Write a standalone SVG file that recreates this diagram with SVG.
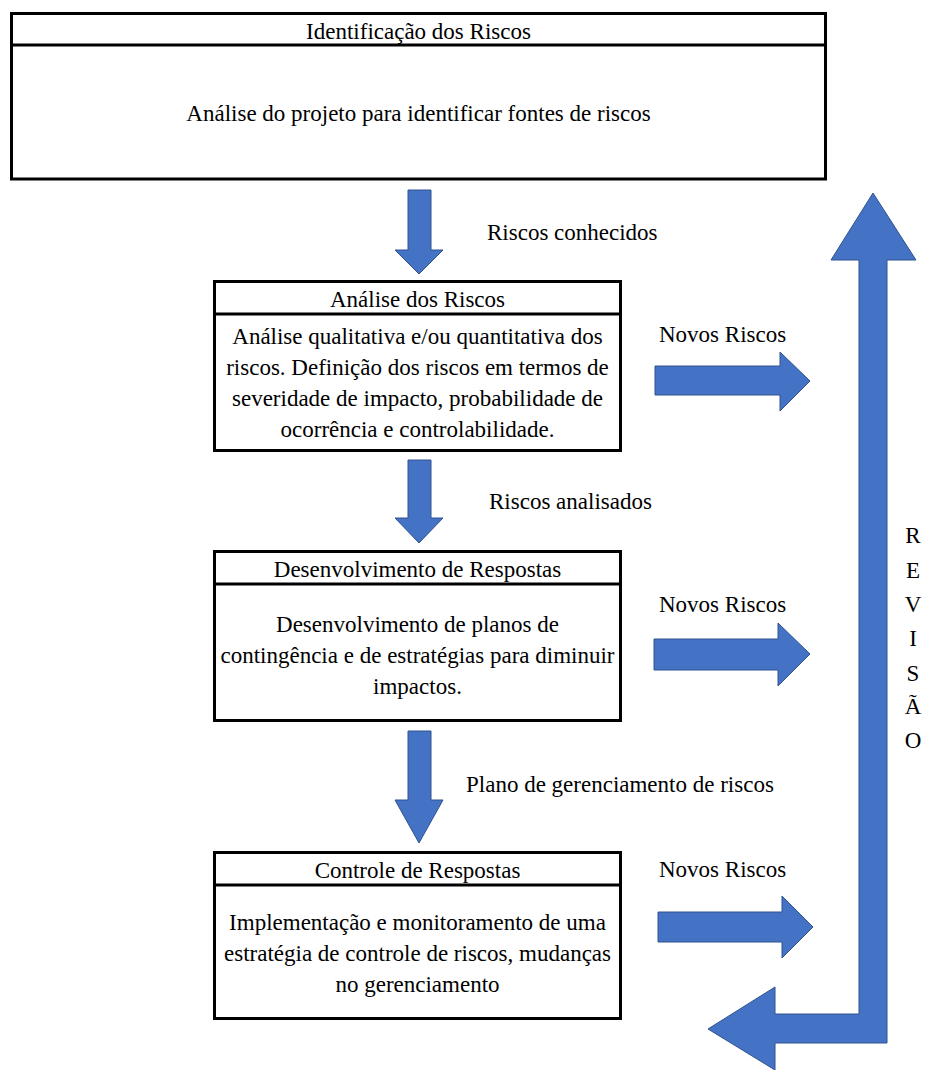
<svg xmlns="http://www.w3.org/2000/svg" width="925" height="1070" viewBox="0 0 925 1070" font-family="Liberation Serif, Times New Roman, serif" font-size="23">
<style>
.c{text-anchor:middle}
.box{fill:#fff;stroke:#000;stroke-width:3}
.div{stroke:#000;stroke-width:3}
.arr{fill:#4472C4;stroke:#2F528F;stroke-width:1}
</style>
<rect x="0" y="0" width="925" height="1070" fill="#fff"/>
<g id="node-identificacao">
<rect class="box" x="11.5" y="13.5" width="814" height="165.5"/>
<line class="div" x1="11.5" y1="45" x2="825.5" y2="45"/>
<text class="c" x="418.5" y="39">Identificação dos Riscos</text>
<text class="c" x="418.5" y="121">Análise do projeto para identificar fontes de riscos</text>
</g>
<g id="node-analise">
<rect class="box" x="214.5" y="281.5" width="406" height="169"/>
<line class="div" x1="214.5" y1="314" x2="620.5" y2="314"/>
<text class="c" x="417.5" y="307">Análise dos Riscos</text>
<text class="c" x="417.5" y="344">Análise qualitativa e/ou quantitativa dos</text>
<text class="c" x="417.5" y="375">riscos. Definição dos riscos em termos de</text>
<text class="c" x="417.5" y="406">severidade de impacto, probabilidade de</text>
<text class="c" x="417.5" y="437">ocorrência e controlabilidade.</text>
</g>
<g id="node-desenvolvimento">
<rect class="box" x="214.5" y="551.5" width="406" height="169"/>
<line class="div" x1="214.5" y1="584" x2="620.5" y2="584"/>
<text class="c" x="417.5" y="577">Desenvolvimento de Respostas</text>
<text class="c" x="417.5" y="632">Desenvolvimento de planos de</text>
<text class="c" x="417.5" y="663">contingência e de estratégias para diminuir</text>
<text class="c" x="417.5" y="694">impactos.</text>
</g>
<g id="node-controle">
<rect class="box" x="214.5" y="852.5" width="406" height="166"/>
<line class="div" x1="214.5" y1="885" x2="620.5" y2="885"/>
<text class="c" x="417.5" y="878">Controle de Respostas</text>
<text class="c" x="417.5" y="930">Implementação e monitoramento de uma</text>
<text class="c" x="417.5" y="961">estratégia de controle de riscos, mudanças</text>
<text class="c" x="417.5" y="992">no gerenciamento</text>
</g>
<g id="connectors">
<polygon class="arr" points="408,190 431,190 431,250 443,250 419,274 395,250 408,250"/>
<polygon class="arr" points="408,460 431,460 431,518 443,518 419,543 395,518 408,518"/>
<polygon class="arr" points="408,731 431,731 431,800 443,800 419,843 395,800 408,800"/>
<polygon class="arr" points="655,366 780,366 780,352 810,381 780,411 780,395 655,395"/>
<polygon class="arr" points="654,639 778,639 778,623 810,654 778,686 778,670 654,670"/>
<polygon class="arr" points="658,912 782,912 782,896 813,927 782,958 782,942 658,942"/>
<polygon class="arr" points="873,193 916,260 887,260 887,1043 775,1043 775,1070 708,1029 775,987 775,1014 859,1014 859,260 831,260"/>
<text x="487" y="240">Riscos conhecidos</text>
<text x="489" y="509">Riscos analisados</text>
<text x="466" y="792">Plano de gerenciamento de riscos</text>
<text x="659" y="342">Novos Riscos</text>
<text x="659" y="612">Novos Riscos</text>
<text x="659" y="877">Novos Riscos</text>
<text class="c" x="913" y="543">R</text>
<text class="c" x="913" y="578">E</text>
<text class="c" x="913" y="612">V</text>
<text class="c" x="913" y="646">I</text>
<text class="c" x="913" y="681">S</text>
<text class="c" x="913" y="714">Ã</text>
<text class="c" x="913" y="748">O</text>
</g>
</svg>
